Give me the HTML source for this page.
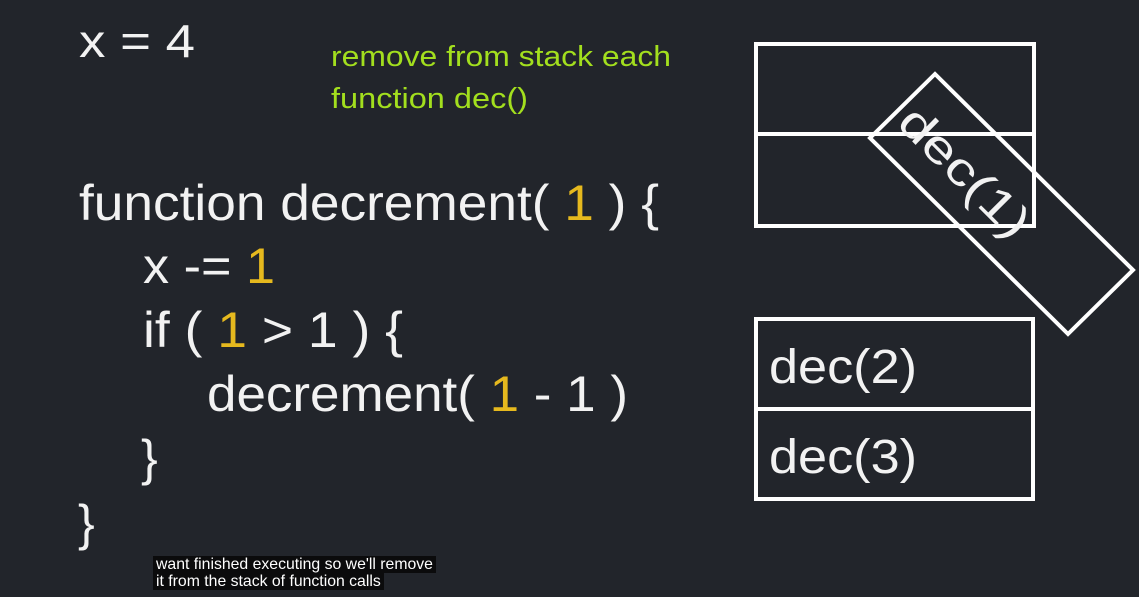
<!DOCTYPE html>
<html><head><meta charset="utf-8"><style>
html,body{margin:0;padding:0;background:#22252b;}
svg{display:block;}
.w{fill:#f2f2f2;font-family:"Liberation Sans",sans-serif;}
.y{fill:#e6b91e;}
.g{fill:#a3df1e;font-family:"Liberation Sans",sans-serif;font-size:29px;}
.cap{position:absolute;left:153px;font-family:"Liberation Sans",sans-serif;font-size:15.8px;color:#fff;background:#0b0b0c;padding:0 3px;line-height:17px;}
</style></head><body>
<div style="position:relative;width:1139px;height:597px;overflow:hidden;background:#22252b">
<svg width="1139" height="597" viewBox="0 0 1139 597">
<text class="w" x="79" y="57" font-size="46" textLength="116" lengthAdjust="spacingAndGlyphs">x = 4</text>
<text class="g" x="331" y="66" textLength="340" lengthAdjust="spacingAndGlyphs">remove from stack each</text>
<text class="g" x="331" y="108" textLength="197" lengthAdjust="spacingAndGlyphs">function dec()</text>
<g class="w" font-size="50">
<text x="79" y="220" textLength="580" lengthAdjust="spacingAndGlyphs">function decrement( <tspan class="y">1</tspan> ) {</text>
<text x="143" y="283" textLength="132" lengthAdjust="spacingAndGlyphs">x -= <tspan class="y">1</tspan></text>
<text x="143" y="347" textLength="260" lengthAdjust="spacingAndGlyphs">if ( <tspan class="y">1</tspan> &gt; 1 ) {</text>
<text x="207" y="411" textLength="421" lengthAdjust="spacingAndGlyphs">decrement( <tspan class="y">1</tspan> - 1 )</text>
<text x="141" y="475">}</text>
<text x="78" y="540">}</text>
</g>
<g fill="none" stroke="#fff" stroke-width="4">
<rect x="756" y="44" width="278" height="182"/>
<line x1="756" y1="134" x2="1034" y2="134"/>
<rect x="756" y="319" width="277" height="180"/>
<line x1="756" y1="409" x2="1033" y2="409"/>
<polygon points="935,74 870,138 1068,334 1133,270"/>
</g>
<g class="w" font-size="48">
<text x="769" y="383" textLength="148" lengthAdjust="spacingAndGlyphs">dec(2)</text>
<text x="769" y="473" textLength="148" lengthAdjust="spacingAndGlyphs">dec(3)</text>
<text x="0" y="0" font-size="46" transform="translate(906,114) rotate(45)" dy="15" textLength="165" lengthAdjust="spacingAndGlyphs">dec(1)</text>
</g>
</svg>
<div class="cap" style="top:556px">want finished executing so we'll remove</div>
<div class="cap" style="top:573px">it from the stack of function calls</div>
</div>
</body></html>
